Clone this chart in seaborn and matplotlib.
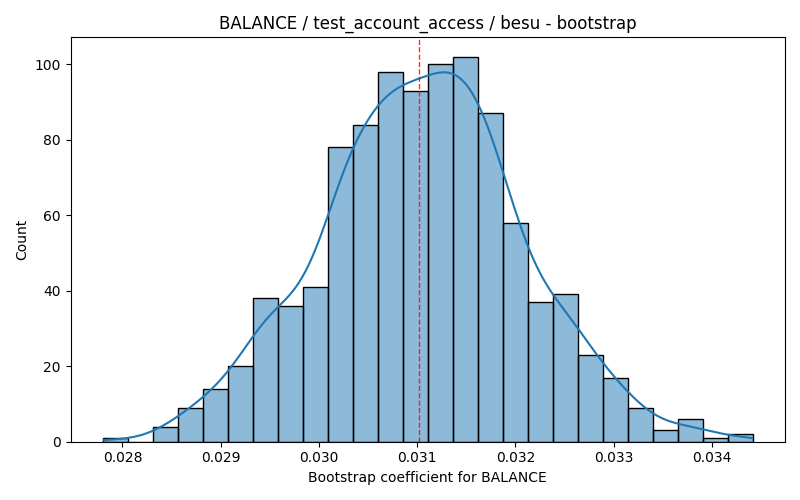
import numpy as np
import pandas as pd
import seaborn as sns
import matplotlib
matplotlib.use('Agg')
import matplotlib.pyplot as plt

# bootstrap histogram (26 bins)
bin_start = 0.027803
bin_end = 0.034413
counts = [1, 0, 4, 9, 14, 20, 38, 36, 41, 78, 84, 98, 93,
          100, 102, 87, 58, 37, 39, 23, 17, 9, 3, 6, 1, 2]
point_estimate = 0.031016

edges = np.linspace(bin_start, bin_end, len(counts) + 1)
df = pd.DataFrame({'coef': (edges[:-1] + edges[1:]) / 2, 'n': counts})

fig, ax = plt.subplots(figsize=(8, 5), dpi=100)
sns.histplot(data=df, x='coef', weights='n', bins=len(counts),
             binrange=(bin_start, bin_end), kde=True,
             kde_kws={'bw_adjust': 0.4, 'cut': 0.3}, ax=ax)
ax.axvline(point_estimate, color='red', linestyle='--', linewidth=1, alpha=0.8)
pad = (bin_end - bin_start) * 0.05
ax.set_xlim(bin_start - pad, bin_end + pad)
ax.set_title('BALANCE / test_account_access / besu - bootstrap')
ax.set_xlabel('Bootstrap coefficient for BALANCE')
ax.set_ylabel('Count')
plt.tight_layout()
plt.savefig('out.png')
